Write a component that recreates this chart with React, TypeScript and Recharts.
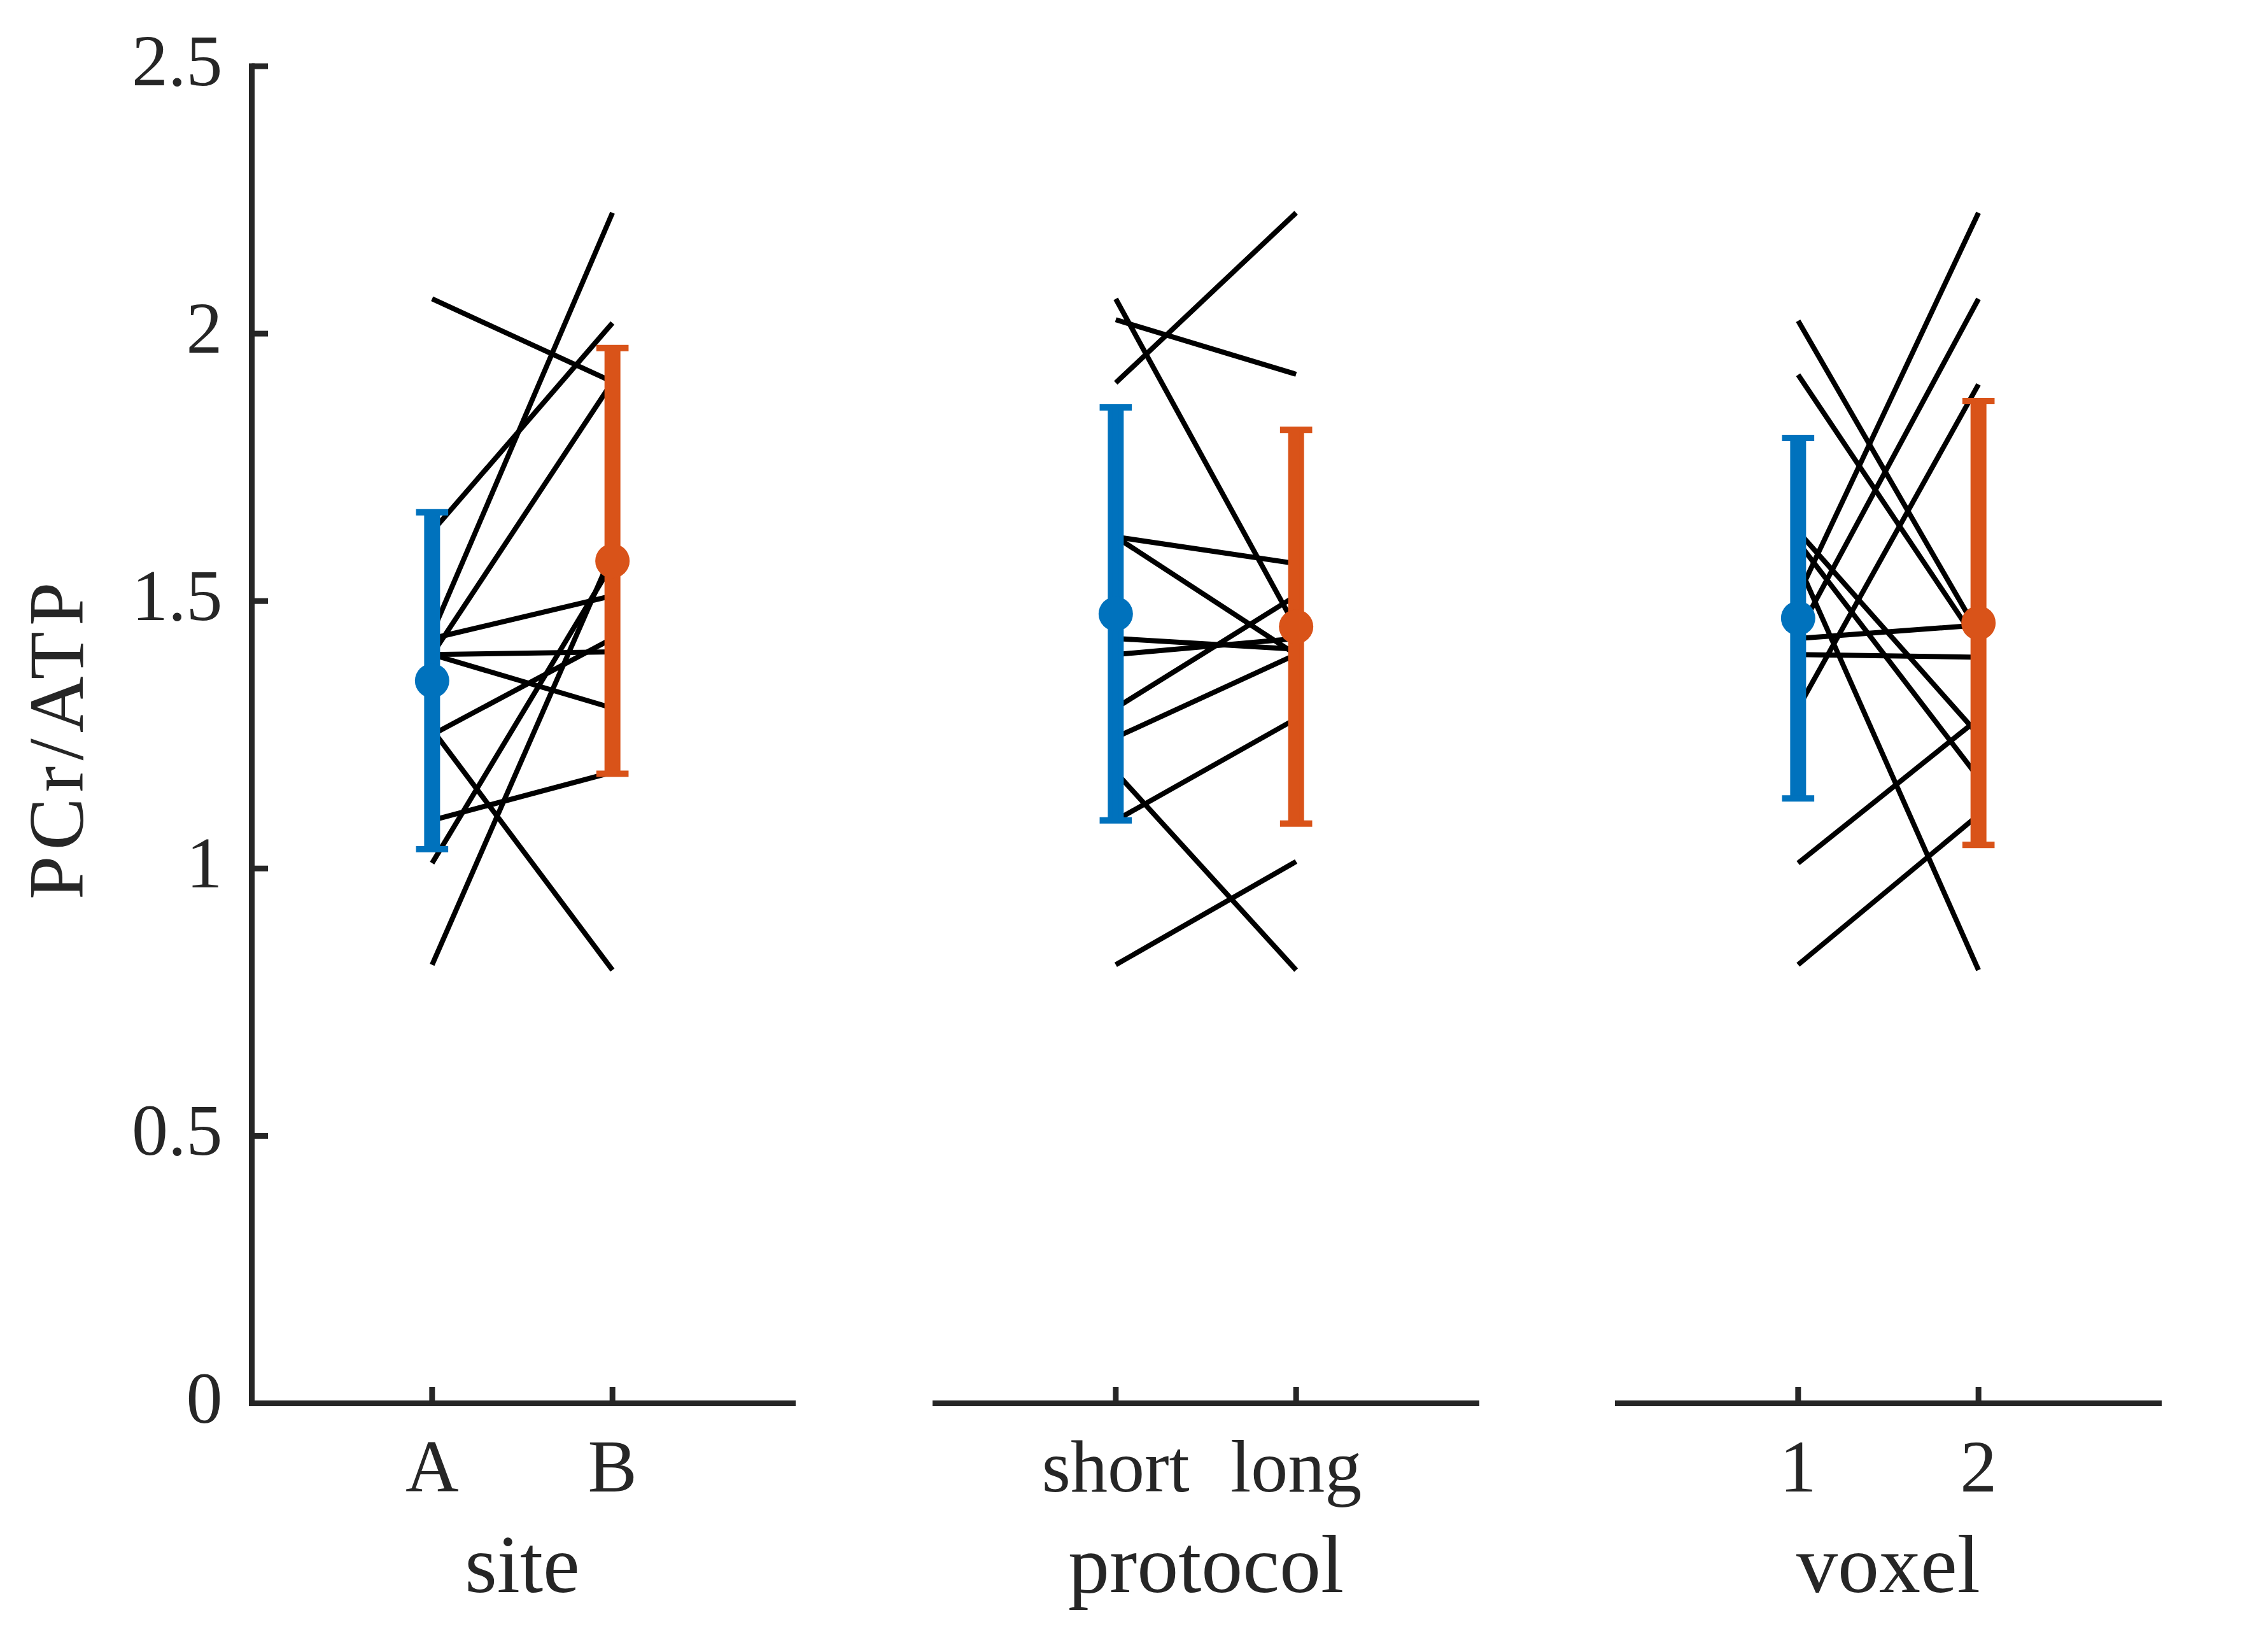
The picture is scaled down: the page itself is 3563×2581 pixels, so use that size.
import React from "react";
import { ComposedChart, Line, Scatter, XAxis, YAxis, ErrorBar } from "recharts";

// PCr/ATP per subject (12 subjects, paired)
const SITE_A = [2.065, 1.63, 1.44, 1.4, 1.43, 1.4, 1.4, 1.25, 1.26, 1.09, 1.01, 0.82];
const SITE_B = [1.91, 2.02, 2.226, 1.91, 1.51, 1.405, 1.3, 1.43, 0.81, 1.18, 1.57, 1.59];

const PROTOCOL_SHORT = [1.908, 2.026, 2.065, 1.62, 1.62, 1.43, 1.4, 1.3, 1.245, 1.09, 1.18, 0.82];
const PROTOCOL_LONG = [2.226, 1.924, 1.45, 1.57, 1.4, 1.41, 1.43, 1.51, 1.4, 1.28, 0.81, 1.013];

const VOXEL_1 = [2.024, 1.923, 1.51, 1.44, 1.3, 1.63, 1.61, 1.57, 1.43, 1.4, 1.01, 0.82];
const VOXEL_2 = [1.44, 1.42, 2.226, 2.065, 1.905, 1.25, 1.17, 0.81, 1.455, 1.395, 1.28, 1.1];

// group means and error bar half-lengths
const SITE_MEAN = [1.351, 1.575];
const SITE_ERR = [0.315, 0.398];
const PROTOCOL_MEAN = [1.476, 1.452];
const PROTOCOL_ERR = [0.386, 0.368];
const VOXEL_MEAN = [1.468, 1.459];
const VOXEL_ERR = [0.337, 0.415];

const SITE_TICKS = ["A", "B"];
const PROTOCOL_TICKS = ["short", "long"];
const VOXEL_TICKS = ["1", "2"];

const Y_TICKS = [0, 0.5, 1, 1.5, 2, 2.5];
const Y_TICK_LABELS = ["0", "0.5", "1", "1.5", "2", "2.5"];

const BLUE = "#0072BD";
const ORANGE = "#D95319";
const AXIS = "#262626";
const FONT = "'Liberation Serif', 'Times New Roman', serif";

const HEIGHT = 2581;
const TOP = 104;
const X_AXIS_H = 300;
const BOTTOM = 76.5;
const PLOT_W = 850;
const TICK_LEN = 25.5;
const LINE_W = 9;

const panels = [
  { title: "site", ticks: SITE_TICKS, a: SITE_A, b: SITE_B, mean: SITE_MEAN, err: SITE_ERR, left: 0, width: 1300, plotLeft: 395.5, yAxis: true },
  { title: "protocol", ticks: PROTOCOL_TICKS, a: PROTOCOL_SHORT, b: PROTOCOL_LONG, mean: PROTOCOL_MEAN, err: PROTOCOL_ERR, left: 1400, width: 1000, plotLeft: 69.5, yAxis: false },
  { title: "voxel", ticks: VOXEL_TICKS, a: VOXEL_1, b: VOXEL_2, mean: VOXEL_MEAN, err: VOXEL_ERR, left: 2470, width: 1000, plotLeft: 71.5, yAxis: false },
];

const Y_AXIS_W = 100;

function Panel({ p }: { p: (typeof panels)[number] }) {
  const pairs = p.a.map((v, i) => [
    { x: 1, y: v },
    { x: 2, y: p.b[i] },
  ]);
  const blue = [{ x: 1, y: p.mean[0], err: p.err[0] }];
  const orange = [{ x: 2, y: p.mean[1], err: p.err[1] }];
  const marginLeft = p.yAxis ? p.plotLeft - Y_AXIS_W : p.plotLeft;
  const marginRight = p.width - (p.yAxis ? p.plotLeft : marginLeft) - PLOT_W;

  // ticks point inward, like the original axes
  const xTick = (t: any) => (
    <g>
      <line x1={t.x} x2={t.x} y1={t.y} y2={t.y - TICK_LEN} stroke={AXIS} strokeWidth={LINE_W} />
      <text x={t.x} y={t.y + 138.5} textAnchor="middle" fontFamily={FONT} fontSize={116} fill={AXIS}>
        {p.ticks[t.payload.value - 1]}
      </text>
    </g>
  );

  const yTick = (t: any) => (
    <g>
      <line x1={t.x} x2={t.x + TICK_LEN} y1={t.y} y2={t.y} stroke={AXIS} strokeWidth={LINE_W} />
      <text x={t.x - 46} y={t.y + 30} textAnchor="end" fontFamily={FONT} fontSize={114} fill={AXIS}>
        {Y_TICK_LABELS[Y_TICKS.indexOf(t.payload.value)]}
      </text>
    </g>
  );

  const xTitle = (l: any) => {
    const vb = l.viewBox;
    return (
      <text x={vb.x + vb.width / 2} y={vb.y + 296} textAnchor="middle" fontFamily={FONT} fontSize={130} fill={AXIS}>
        {p.title}
      </text>
    );
  };

  const yTitle = (l: any) => {
    const vb = l.viewBox;
    const bx = vb.x + vb.width - 265.5;
    const cy = vb.y + vb.height / 2 + 5;
    return (
      <text
        x={bx}
        y={cy}
        transform={`rotate(-90, ${bx}, ${cy})`}
        textAnchor="middle"
        fontFamily={FONT}
        fontSize={123}
        letterSpacing={9}
        fill={AXIS}
      >
        PCr/ATP
      </text>
    );
  };

  return (
    <div style={{ position: "absolute", left: p.left, top: 0 }}>
      <ComposedChart
        width={p.width}
        height={HEIGHT}
        margin={{ top: TOP, right: marginRight, bottom: BOTTOM, left: marginLeft }}
      >
        <XAxis
          type="number"
          dataKey="x"
          domain={[0, 3]}
          ticks={[1, 2]}
          height={X_AXIS_H}
          tickSize={0}
          tickMargin={0}
          tickLine={false}
          tick={xTick}
          axisLine={{ stroke: AXIS, strokeWidth: LINE_W, strokeLinecap: "square" }}
          label={xTitle}
        />
        <YAxis
          type="number"
          dataKey="y"
          domain={[0, 2.5]}
          ticks={Y_TICKS}
          width={Y_AXIS_W}
          hide={!p.yAxis}
          tickSize={0}
          tickMargin={0}
          tickLine={false}
          tick={yTick}
          axisLine={{ stroke: AXIS, strokeWidth: LINE_W, strokeLinecap: "square" }}
          label={yTitle}
        />
        {pairs.map((d, i) => (
          <Line
            key={i}
            data={d}
            dataKey="y"
            type="linear"
            stroke="#000000"
            strokeWidth={8}
            dot={false}
            activeDot={false}
            isAnimationActive={false}
          />
        ))}
        {[
          { d: blue, c: BLUE },
          { d: orange, c: ORANGE },
        ].map((s, i) => (
          <Scatter
            key={"s" + i}
            data={s.d}
            dataKey="y"
            fill={s.c}
            isAnimationActive={false}
            shape={(sp: any) => <circle cx={sp.cx} cy={sp.cy} r={27} fill={s.c} />}
          >
            <ErrorBar dataKey="err" direction="y" width={0} strokeWidth={25} stroke={s.c} isAnimationActive={false} />
            <ErrorBar dataKey="err" direction="y" width={25.3} strokeWidth={10} stroke={s.c} isAnimationActive={false} />
          </Scatter>
        ))}
      </ComposedChart>
    </div>
  );
}

export default function App() {
  return (
    <div style={{ position: "absolute", left: 0, top: 0, width: 3563, height: HEIGHT, background: "#ffffff" }}>
      {panels.map((p) => (
        <Panel key={p.title} p={p} />
      ))}
    </div>
  );
}
